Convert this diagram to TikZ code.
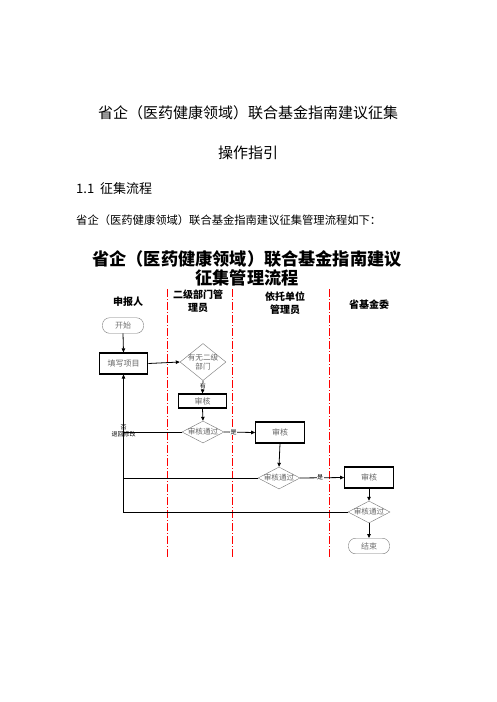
\documentclass[tikz,border=0pt]{standalone}
\usepackage{fontspec}
\newfontfamily\cjk{Noto Sans CJK SC}
\usetikzlibrary{arrows.meta,shapes.geometric}

\begin{document}
\begin{tikzpicture}[
            x=1pt, y=-1pt,
            >={Triangle[length=4pt,width=3.5pt]},
            every node/.style={font=\cjk},
            txt/.style={
                inner sep=0pt,
                font=\cjk\fontsize{#1}{#1}\selectfont
            },
            head/.style={
                inner sep=0pt,
                align=center,
                font=\cjk\bfseries\fontsize{10}{13}\selectfont
            },
            term/.style={
                rectangle,
                draw=black!55,
                rounded corners=7pt,
                minimum width=41pt,
                minimum height=15.5pt,
                inner sep=0pt,
                text=black!55,
                font=\cjk\fontsize{8}{9}\selectfont
            },
            task/.style={
                rectangle,
                draw=black,
                line width=1.1pt,
                minimum width=48.5pt,
                minimum height=#1,
                inner sep=0pt,
                text=black!60,
                font=\cjk\fontsize{8}{9}\selectfont
            },
            task/.default=21pt,
            dec/.style={
                diamond,
                draw=black!55,
                inner sep=0pt,
                minimum width=42pt,
                minimum height=22pt,
                label={[inner sep=0pt, align=center, text=black!60,
                        font=\cjk\fontsize{7.6}{8.5}\selectfont]center:#1}
            },
            lane/.style={
                draw=red,
                line width=0.9pt,
                dash pattern=on 8pt off 2pt on 1pt off 2pt
            },
            flow/.style={
                draw=black,
                line width=0.8pt
            },
            tag/.style={
                fill=white,
                inner sep=0.5pt,
                font=\cjk\fontsize{6}{7}\selectfont
            }
        ]
        \useasboundingbox (0,0) rectangle (496,702);

        % page text
        \node[txt=15] (title1) at (248,113) {省企（医药健康领域）联合基金指南建议征集};
        \node[txt=15] (title2) at (248,153) {操作指引};
        \node[txt=13, anchor=west] (sect) at (76,189) {1.1\ \ 征集流程};
        \node[txt=11.3, anchor=west] (para) at (76,220) {省企（医药健康领域）联合基金指南建议征集管理流程如下：};

        % chart title
        \node[txt=17.2, font=\cjk\bfseries\fontsize{17.2}{17.2}\selectfont] (ctitle1) at (247,259) {省企（医药健康领域）联合基金指南建议};
        \node[txt=17.2, font=\cjk\bfseries\fontsize{17.2}{17.2}\selectfont] (ctitle2) at (247,278) {征集管理流程};

        % lanes
        \node[head] (h1) at (128,302) {申报人};
        \node[head] (h2) at (198,301) {二级部门管\\理员};
        \node[head] (h3) at (285,303.5) {依托单位\\管理员};
        \node[head] (h4) at (369,305) {省基金委};
        \draw[lane] (167,289) -- (167,557);
        \draw[lane] (232,289) -- (232,557);
        \draw[lane] (329,289) -- (329,557);

        % nodes
        \node[term] (start) at (123,325.5) {开始};
        \node[task] (fill) at (123.5,363.5) {填写项目};
        \node[dec={有无二级\\部门}, minimum width=46pt, minimum height=37pt] (q1) at (203,362) {};
        \node[task=14pt] (chk1) at (202.5,401) {审核};
        \node[dec=审核通过] (d1) at (203,432) {};
        \node[task] (chk2) at (280,432.5) {审核};
        \node[dec=审核通过] (d2) at (279,478) {};
        \node[task] (chk3) at (369,477.5) {审核};
        \node[dec=审核通过] (d3) at (369,512) {};
        \node[term] (end) at (369,546) {结束};
        \coordinate (back) at (fill.south |- d3.west);

        % lines
        \draw[flow, ->] (start.south) -- (fill.north);
        \draw[flow, ->] (fill.east) -- (q1.west);
        \draw[flow, ->] (q1.south) -- node[tag, pos=0.4] {有} (chk1.north);
        \draw[flow, ->] (chk1.south) -- (d1.north);
        \draw[flow, ->] (d1.east) -- node[tag, pos=0.3] {是} (chk2.west);
        \draw[flow, ->] (chk2.south) -- (d2.north);
        \draw[flow, ->] (d2.east) -- node[tag, pos=0.45] {是} (chk3.west);
        \draw[flow, ->] (chk3.south) -- (d3.north);
        \draw[flow, ->] (d3.south) -- (end.north);
        \draw[flow, ->] (d3.west) -- (back) -- (fill.south);
        \draw[flow] (d2.west) -- (d2.west -| back);
        \draw[flow] (d1.west) -- (d1.west -| back)
            node[tag, fill=none, align=center, yshift=1.5pt] {否\\退回修改};
    \end{tikzpicture}
\end{document}
